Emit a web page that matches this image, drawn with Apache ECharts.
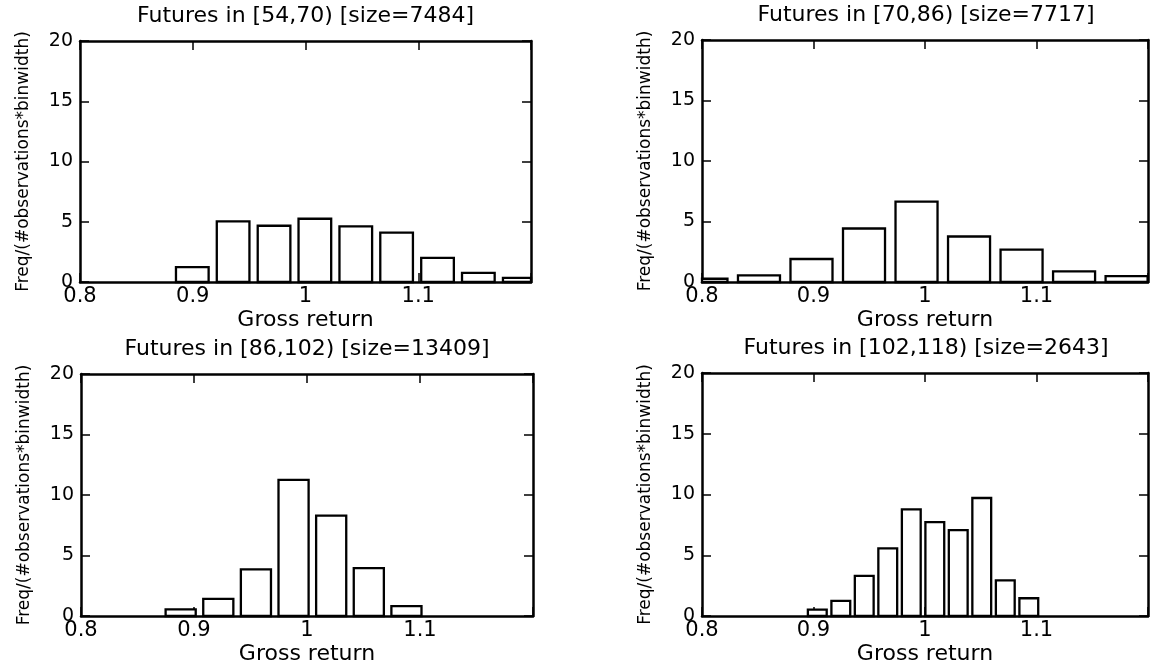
<!DOCTYPE html>
<html>
<head>
<meta charset="utf-8">
<script src="https://cdn.jsdelivr.net/npm/echarts@6/dist/echarts.min.js"></script>
<style>
html,body{margin:0;padding:0;background:#fff;}
#chart{width:1151px;height:666px;}
</style>
</head>
<body>
<div id="chart"></div>
<script>
// ---- data ----
const titles = [
  'Futures in [54,70) [size=7484]',
  'Futures in [70,86) [size=7717]',
  'Futures in [86,102) [size=13409]',
  'Futures in [102,118) [size=2643]'
];
const xAxisName = 'Gross return';
const yAxisName = 'Freq/(#observations*binwidth)';
const xTicks = [0.8, 0.9, 1.0, 1.1];
const xMax = 1.2;
const yTicks = [0, 5, 10, 15, 20];

const binCenters1 = [0.8996, 0.9358, 0.9721, 1.0083, 1.0446, 1.0808, 1.1171, 1.1533, 1.1896];
const binValues1  = [1.24, 5.03, 4.67, 5.25, 4.62, 4.10, 2.01, 0.76, 0.34];

const binCenters2 = [0.8040, 0.8511, 0.8982, 0.9453, 0.9924, 1.0395, 1.0866, 1.1337, 1.1808];
const binValues2  = [0.27, 0.55, 1.90, 4.42, 6.65, 3.76, 2.67, 0.87, 0.48];

const binCenters3 = [0.8882, 0.9215, 0.9548, 0.9881, 1.0214, 1.0547, 1.0880];
const binValues3  = [0.55, 1.42, 3.85, 11.25, 8.30, 3.95, 0.82];

const binCenters4 = [0.9034, 0.9245, 0.9455, 0.9666, 0.9877, 1.0088, 1.0298, 1.0509, 1.0720, 1.0931];
const binValues4  = [0.52, 1.24, 3.30, 5.56, 8.78, 7.73, 7.07, 9.71, 2.94, 1.46];

// ---- layout / style ----
const panels = [
  {centers: binCenters1, values: binValues1, grid: {left: 80, top: 41, width: 451, height: 241}},
  {centers: binCenters2, values: binValues2, grid: {left: 702, top: 40, width: 448, height: 242}},
  {centers: binCenters3, values: binValues3, grid: {left: 81, top: 374, width: 452, height: 243}},
  {centers: binCenters4, values: binValues4, grid: {left: 702, top: 373, width: 448, height: 243}}
];
const FONT = '"DejaVu Sans", "Liberation Sans", Arial, sans-serif';
const BAR_RATIO = 0.8;

const chart = echarts.init(document.getElementById('chart'), null, {renderer: 'canvas'});

const grids = [], xAxes = [], yAxes = [], series = [], titleOpts = [];
const xMin = xTicks[0], xInt = +(xTicks[1] - xTicks[0]).toFixed(10);
const yMin = yTicks[0], yMax = yTicks[yTicks.length - 1], yInt = yTicks[1] - yTicks[0];

const axisLine = {show: true, onZero: false, lineStyle: {color: '#000', width: 2.5}};
const tickStyle = {show: true, inside: true, length: 9, lineStyle: {color: '#000', width: 1.5}};

panels.forEach((p, i) => {
  grids.push(Object.assign({containLabel: false}, p.grid));
  titleOpts.push({
    text: titles[i],
    left: p.grid.left + p.grid.width / 2,
    top: p.grid.top - 36,
    textAlign: 'center',
    padding: 0,
    textStyle: {fontFamily: FONT, fontSize: 22, fontWeight: 'normal', color: '#000'}
  });
  // bottom x axis (labels)
  xAxes.push({
    type: 'value', gridIndex: i, position: 'bottom', min: xMin, max: xMax, interval: xInt,
    axisLine, axisTick: tickStyle, splitLine: {show: false},
    axisLabel: {color: '#000', fontFamily: FONT, fontSize: 21, margin: 4,
      formatter: v => (v > xTicks[xTicks.length - 1] + 1e-6 ? '' : String(+v.toFixed(2)))},
    name: xAxisName, nameLocation: 'middle', nameGap: 27,
    nameTextStyle: {color: '#000', fontFamily: FONT, fontSize: 22}
  });
  // top x axis (ticks only)
  xAxes.push({
    type: 'value', gridIndex: i, position: 'top', min: xMin, max: xMax, interval: xInt,
    axisLine, axisTick: tickStyle, splitLine: {show: false}, axisLabel: {show: false}
  });
  // left y axis
  yAxes.push({
    type: 'value', gridIndex: i, position: 'left', min: yMin, max: yMax, interval: yInt,
    axisLine, axisTick: tickStyle, splitLine: {show: false},
    axisLabel: {color: '#000', fontFamily: FONT, fontSize: 19, margin: 7},
    name: yAxisName, nameLocation: 'middle', nameGap: 48, nameRotate: 90,
    nameTextStyle: {color: '#000', fontFamily: FONT, fontSize: 17}
  });
  // right y axis (ticks only)
  yAxes.push({
    type: 'value', gridIndex: i, position: 'right', min: yMin, max: yMax, interval: yInt,
    axisLine, axisTick: tickStyle, splitLine: {show: false}, axisLabel: {show: false}
  });
  const step = p.centers[1] - p.centers[0];
  const hw = step * BAR_RATIO / 2;
  series.push({
    type: 'custom',
    xAxisIndex: i * 2, yAxisIndex: i * 2,
    data: p.centers.map((c, k) => [c, p.values[k]]),
    renderItem: (params, api) => {
      const c = api.value(0), v = api.value(1);
      const a = api.coord([c - hw, v]);
      const b = api.coord([c + hw, 0]);
      const cs = params.coordSys;
      const shape = echarts.graphic.clipRectByRect(
        {x: a[0], y: a[1], width: b[0] - a[0], height: b[1] - a[1]},
        {x: cs.x, y: cs.y, width: cs.width, height: cs.height}
      );
      if (!shape) return;
      return {type: 'rect', shape, style: {fill: '#fff', stroke: '#000', lineWidth: 2.3}};
    },
    z: 1
  });
});

chart.setOption({
  backgroundColor: '#fff',
  animation: false,
  title: titleOpts,
  grid: grids,
  xAxis: xAxes,
  yAxis: yAxes,
  series
});
</script>
</body>
</html>
